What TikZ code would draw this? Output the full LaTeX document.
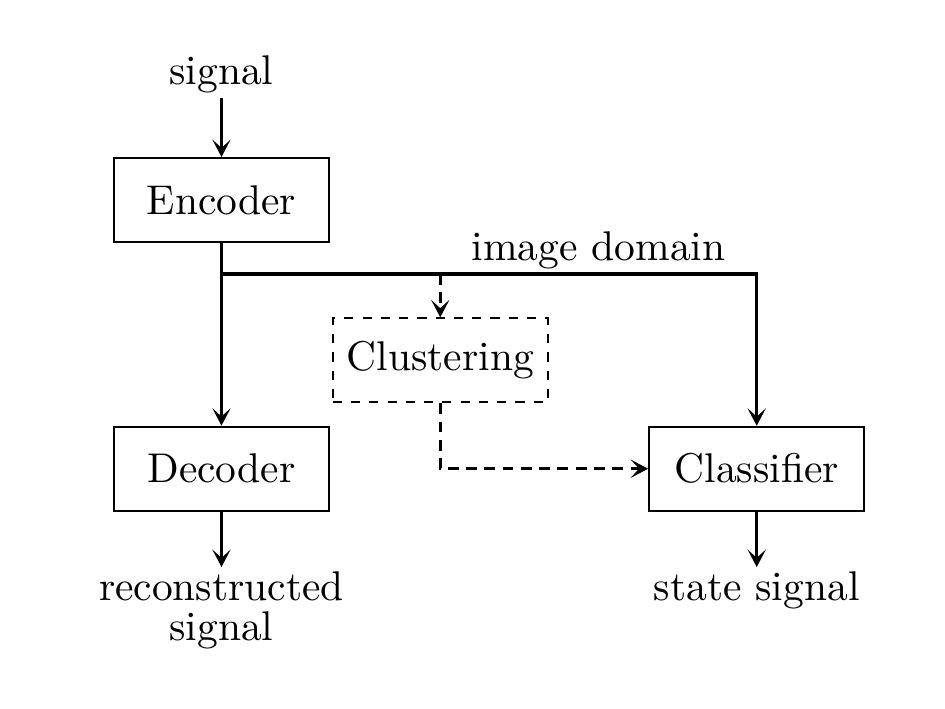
\documentclass[tikz,border=0pt]{standalone}
\usetikzlibrary{arrows.meta}
\begin{document}
\begin{tikzpicture}[
  box/.style={draw, line width=0.5pt, minimum width=51.8pt, minimum height=20.2pt, inner sep=2pt},
  dbox/.style={box, dash pattern=on 2.2pt off 2.2pt},
  conn/.style={line width=0.8pt, -{Stealth[length=4.2pt, width=4.4pt, inset=2pt]}},
  dconn/.style={conn, dash pattern=on 2.6pt off 1.8pt},
  lbl/.style={inner sep=1pt}
]
\useasboundingbox (0,0) rectangle (8,-6);
\node[box] (enc) at (1.875,-1.693) {Encoder};
\node[box] (dec) at (1.875,-3.967) {Decoder};
\node[dbox] (clu) at (3.727,-3.050) {Clustering};
\node[box] (cls) at (6.406,-3.968) {Classifier};
\node[lbl, anchor=south] (sig) at (1.875,-0.830) {signal};
\node[lbl, anchor=base] (img) at (5.067,-2.201) {image domain};
\node[lbl, anchor=north, align=center] (rec) at (1.875,-4.800) {reconstructed\\[-2.4pt]signal};
\node[lbl, anchor=north] (st) at (6.406,-4.800) {state signal};
\coordinate (split) at (1.875,-2.320);
\coordinate (tap) at (3.727,-2.320);
\draw[conn] (sig) -- (enc);
\draw[conn] (enc) -- (dec);
\draw[conn] (split) -| (cls.north);
\draw[dconn] (tap) -- (clu.north);
\draw[dconn] (clu.south) |- (cls.west);
\draw[conn] (dec) -- (rec);
\draw[conn] (cls) -- (st);
\end{tikzpicture}
\end{document}
